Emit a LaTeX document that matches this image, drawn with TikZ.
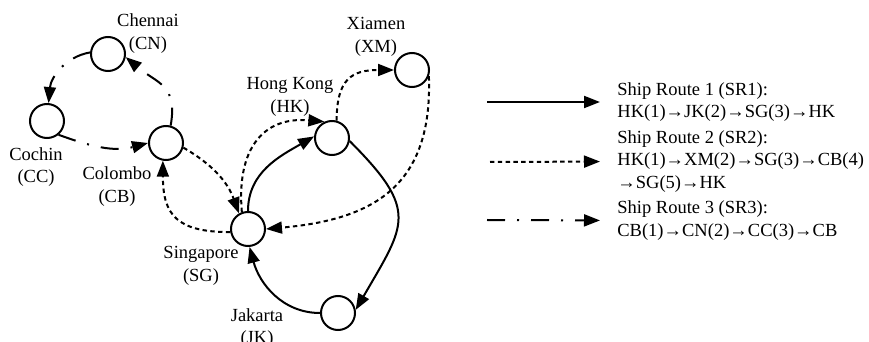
\documentclass[tikz,border=0pt]{standalone}
\usepackage{fontspec}
\setmainfont{Liberation Serif}
\usepackage{tikz}
\usetikzlibrary{arrows.meta}

\tikzset{
	port/.style={circle, draw, line width=1pt, minimum size=17pt, inner sep=0pt},
	cityname/.style={align=center, inner sep=0pt, font=\fontsize{9.25}{11.2}\selectfont},
	routetxt/.style={align=left, anchor=west, inner sep=0pt, font=\fontsize{9.25}{11.3}\selectfont},
	routeline/.style={-{Triangle[length=8pt,width=6pt]}, line width=1pt},
	sr1/.style={routeline},
	sr2/.style={routeline, dash pattern=on 2.2pt off 1.7pt},
	sr3/.style={routeline, dash pattern=on 9pt off 6pt on 1pt off 6pt},
}

\begin{document}
\begin{tikzpicture}[x=50pt, y=-50pt]
					\useasboundingbox (0, 0) rectangle (8.69, 3.42);
					% Ports:
					\node[port](CN) at (1.08, 0.54){};
					\node[port](CC) at (0.47, 1.21){};
					\node[port](CB) at (1.66, 1.43){};
					\node[port](SG) at (2.48, 2.29){};
					\node[port](HK) at (3.32, 1.38){};
					\node[port](XM) at (4.12, 0.70){};
					\node[port](JK) at (3.38, 3.13){};
					\node[cityname](CNl) at (1.48, 0.335){Chennai\\(CN)};
					\node[cityname](CCl) at (0.36, 1.67){Cochin\\(CC)};
					\node[cityname](CBl) at (1.17, 1.865){Colombo\\(CB)};
					\node[cityname](SGl) at (2.01, 2.66){Singapore\\(SG)};
					\node[cityname](JKl) at (2.57, 3.28){Jakarta\\(JK)};
					\node[cityname](HKl) at (2.90, 0.97){Hong Kong\\(HK)};
					\node[cityname](XMl) at (3.76, 0.37){Xiamen\\(XM)};
					% SR1:
					\draw[sr1] (HK.-10) to[out=-45, in=60, looseness=1.5] (JK.10);
					\draw[sr1] (JK.180) to[out=180, in=-75] (SG.-85);
					\draw[sr1] (SG.90) to[out=90, in=210] (HK.175);
					% SR2:
					\draw[sr2] (HK.75) to[out=90, in=180, looseness=1.4] (XM.180);
					\draw[sr2] (XM.-20) to[out=-88, in=5, looseness=1.25] (SG.0);
					\draw[sr2] (SG.190) to[out=180, in=-90, looseness=1.4] (CB.-100);
					\draw[sr2] (CB.-15) to[out=-30, in=110] (SG.120);
					\draw[sr2] (SG.110) to[out=95, in=175, looseness=1.3] (HK.115);
					% SR3:
					\draw[sr3] (CB.75) to[out=80, in=-40, looseness=1.3] (CN.-10);
					\draw[sr3] (CN.175) to[out=190, in=85] (CC.85);
					\draw[sr3] (CC.-50) to[out=-20, in=195] (CB.180);
					% Legend:
					\coordinate (l1) at (4.87, 1.02);
					\coordinate (l2) at (4.90, 1.62);
					\coordinate (l3) at (4.87, 2.20);
					\node[routetxt](r1) at (6.17, 1.02){Ship Route 1 (SR1):\\HK(1)→JK(2)→SG(3)→HK};
					\node[routetxt](r2) at (6.17, 1.615){Ship Route 2 (SR2):\\HK(1)→XM(2)→SG(3)→CB(4)\\→SG(5)→HK};
					\node[routetxt](r3) at (6.17, 2.205){Ship Route 3 (SR3):\\CB(1)→CN(2)→CC(3)→CB};
					\draw[sr1, shorten >=8.5pt] (l1) -- (r1.west);
					\draw[sr2, shorten >=8.5pt] (l2) -- (r2.west);
					\draw[sr3, shorten >=8.5pt] (l3) -- (r3.west);
\end{tikzpicture}
\end{document}
